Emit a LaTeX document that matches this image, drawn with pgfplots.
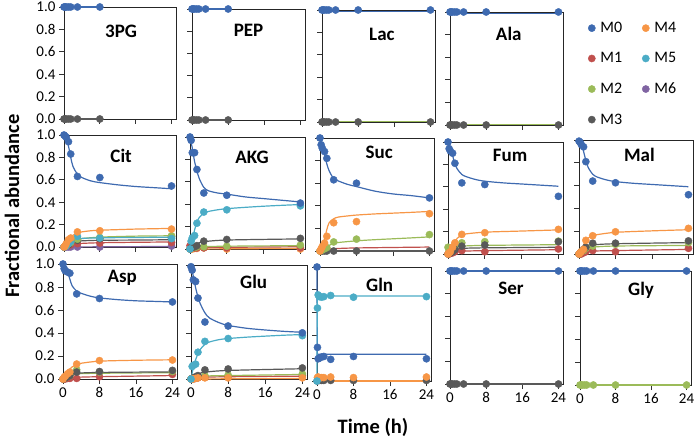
\documentclass[border=0pt]{standalone}
\usepackage{pgfplots}
\pgfplotsset{compat=1.18}
\usepackage{fontspec}
\setmainfont{Carlito}
\definecolor{c0}{HTML}{3E6AB0}
\definecolor{c1}{HTML}{C0504D}
\definecolor{c2}{HTML}{9BBB59}
\definecolor{c3}{HTML}{595959}
\definecolor{c4}{HTML}{F79646}
\definecolor{c5}{HTML}{4BACC6}
\definecolor{c6}{HTML}{8064A2}
\newcommand\tickfont{\fontsize{15}{18}\selectfont}
\newcommand\ttlfont{\fontsize{19}{22}\selectfont\bfseries}
\newcommand\legfont{\fontsize{16}{19}\selectfont}
\newcommand\labfont{\fontsize{20.5}{24}\selectfont\bfseries}
\pgfplotsset{
 panel/.style={scale only axis, anchor=south west, xmin=0, xmax=25, ymin=0, ymax=1,
   xtick={0,8,16,24}, ytick={0,0.2,0.4,0.6,0.8,1},
   xtick pos=bottom, ytick pos=left, tick align=outside, major tick length=5pt,
   tick style={black!80, line width=0.8pt},
   axis line style={black!85, line width=0.9pt},
   clip=false,
   ticklabel style={font=\tickfont},
   /pgf/number format/assume math mode=true,
   yticklabel style={/pgf/number format/.cd, fixed, fixed zerofill, precision=1}},
 noy/.style={yticklabels={}},
 nox/.style={xticklabels={}},
 pt/.style={only marks, mark=*, mark size=3.6pt, color=#1},
 ln/.style={no marks, color=#1, line width=1.2pt, smooth},
 sl/.style={no marks, color=#1, line width=1.2pt},
}
\newcommand\ttl[3]{\node[font=\ttlfont] at (rel axis cs:#1,#2) {#3};}
\begin{document}
\begin{tikzpicture}[x=1pt,y=1pt]
\useasboundingbox (0,0) rectangle (700,439);
% ---------- Row 1 ----------
\begin{axis}[panel, nox, at={(64pt,320pt)}, width=112pt, height=112pt]
\addplot[sl=c3] coordinates {(0,0) (8,0)};
\addplot[pt=c3] coordinates {(0,0) (0.25,0) (0.5,0) (1,0) (1.5,0) (3,0) (8,0)};
\addplot[sl=c0] coordinates {(0,1) (8,1)};
\addplot[pt=c0] coordinates {(0,1) (0.25,1) (0.5,1) (1,1) (1.5,1) (3,1) (8,1)};
\ttl{0.51}{0.78}{3PG}
\end{axis}
\begin{axis}[panel, nox, noy, at={(192pt,319pt)}, width=113pt, height=111pt]
\addplot[sl=c3] coordinates {(0,0) (8,0)};
\addplot[pt=c3] coordinates {(0,0) (0.25,0) (0.5,0) (1,0) (1.5,0) (3,0) (8,0)};
\addplot[sl=c0] coordinates {(0,1) (8,1)};
\addplot[pt=c0] coordinates {(0,1) (0.25,1) (0.5,1) (1,1) (1.5,1) (3,1) (8,1)};
\ttl{0.50}{0.81}{PEP}
\end{axis}
\begin{axis}[panel, nox, noy, at={(322pt,317pt)}, width=113pt, height=112pt]
\addplot[sl=c2] coordinates {(0,0.005) (24,0.005)};
\addplot[pt=c3] coordinates {(0,0) (0.25,0) (0.5,0) (1,0) (1.5,0) (3,0) (8,0) (24,0)};
\addplot[sl=c0] coordinates {(0,0.99) (24,0.99)};
\addplot[pt=c0] coordinates {(0,1) (0.25,1) (0.5,1) (1,1) (1.5,1) (3,1) (8,1) (24,1)};
\ttl{0.53}{0.78}{Lac}
\end{axis}
\begin{axis}[panel, nox, noy, at={(450pt,314pt)}, width=113pt, height=113pt]
\addplot[sl=c2] coordinates {(0,0.005) (24,0.005)};
\addplot[pt=c3] coordinates {(0,0) (0.25,0) (0.5,0) (1,0) (1.5,0) (3,0) (8,0) (24,0)};
\addplot[sl=c0] coordinates {(0,0.99) (24,0.99)};
\addplot[pt=c0] coordinates {(0,1) (0.25,1) (0.5,1) (1,1) (1.5,1) (3,1) (8,1) (24,1)};
\ttl{0.52}{0.81}{Ala}
\end{axis}
% ---------- legend ----------
\begin{axis}[hide axis, scale only axis, anchor=south west, at={(585pt,321pt)}, width=100pt, height=100pt,
  xmin=0, xmax=1, ymin=0, ymax=1,
  legend columns=2, legend cell align=left,
  legend style={at={(0,1)}, anchor=north west, draw=none, fill=none, font=\legfont,
    row sep=14.5pt, /tikz/every odd column/.append style={column sep=3pt},
    /tikz/every even column/.append style={column sep=18pt}},
  legend image code/.code={\draw[#1] plot coordinates {(0pt,0pt)};}]
\addlegendimage{pt=c0}\addlegendentry{M0}
\addlegendimage{pt=c4}\addlegendentry{M4}
\addlegendimage{pt=c1}\addlegendentry{M1}
\addlegendimage{pt=c5}\addlegendentry{M5}
\addlegendimage{pt=c2}\addlegendentry{M2}
\addlegendimage{pt=c6}\addlegendentry{M6}
\addlegendimage{pt=c3}\addlegendentry{M3}
\end{axis}
% ---------- Row 2 ----------
% Cit
\begin{axis}[panel, nox, at={(64pt,192pt)}, width=112pt, height=112pt]
\addplot[ln=c6] coordinates {(0,0) (24,0.005)};
\addplot[pt=c6] coordinates {(0,0) (0.25,0) (0.5,0) (1,0) (1.5,0) (3,0) (8,0) (24,0.008)};
\addplot[ln=c1] coordinates {(0,0) (1,0.01) (2,0.02) (3,0.03) (8,0.038) (16,0.042) (24,0.045)};
\addplot[pt=c1] coordinates {(0,0) (0.25,0.005) (0.5,0.01) (1,0.02) (1.5,0.02) (3,0.03) (8,0.035) (24,0.04)};
\addplot[ln=c3] coordinates {(0,0) (1,0.02) (2,0.04) (3,0.05) (4,0.055) (8,0.06) (16,0.062) (24,0.065)};
\addplot[pt=c3] coordinates {(0,0) (0.25,0.005) (0.5,0.01) (1,0.02) (1.5,0.04) (3,0.06) (8,0.075) (24,0.09)};
\addplot[ln=c2] coordinates {(0,0) (1,0.025) (2,0.05) (3,0.065) (4,0.075) (8,0.088) (16,0.097) (24,0.1)};
\addplot[pt=c2] coordinates {(0,0) (0.25,0.005) (0.5,0.01) (1,0.03) (1.5,0.04) (3,0.07) (8,0.085) (24,0.1)};
\addplot[ln=c5] coordinates {(0,0) (1,0.03) (2,0.06) (3,0.072) (4,0.077) (8,0.082) (16,0.085) (24,0.088)};
\addplot[pt=c5] coordinates {(0,0) (0.25,0.005) (0.5,0.01) (1,0.03) (1.5,0.05) (3,0.095) (8,0.08) (24,0.075)};
\addplot[ln=c4] coordinates {(0,0) (0.5,0.03) (1,0.06) (1.5,0.085) (2,0.105) (3,0.125) (4,0.135) (6,0.145) (8,0.15) (12,0.155) (16,0.16) (20,0.163) (24,0.166)};
\addplot[pt=c4] coordinates {(0,0) (0.25,0.01) (0.5,0.03) (1,0.065) (1.5,0.08) (3,0.135) (8,0.145) (24,0.16)};
\addplot[ln=c0] coordinates {(0,1) (0.5,0.97) (1,0.9) (1.5,0.8) (2,0.72) (3,0.65) (4,0.62) (6,0.59) (8,0.575) (12,0.555) (16,0.54) (20,0.53) (24,0.52)};
\addplot[pt=c0] coordinates {(0,1) (0.25,0.99) (0.5,0.98) (1,0.94) (1.5,0.83) (3,0.63) (8,0.62) (24,0.545)};
\ttl{0.51}{0.81}{Cit}
\end{axis}
% AKG
\begin{axis}[panel, nox, noy, at={(190pt,190pt)}, width=115pt, height=112pt]
\addplot[ln=c4] coordinates {(0,0) (24,0.005)};
\addplot[pt=c4] coordinates {(0,0) (0.25,0) (0.5,0) (1,0.005) (1.5,0.005) (3,0.01) (8,0) (24,0)};
\addplot[ln=c1] coordinates {(0,0.01) (3,0.012) (8,0.015) (24,0.02)};
\addplot[pt=c1] coordinates {(0,0.03) (0.25,0.02) (0.5,0.02) (1,0.01) (1.5,0.01) (3,0.01) (8,0.01) (24,0.01)};
\addplot[ln=c2] coordinates {(0,0) (1,0.01) (3,0.02) (8,0.025) (24,0.03)};
\addplot[pt=c2] coordinates {(0,0) (0.25,0.01) (0.5,0.01) (1,0.015) (1.5,0.02) (3,0.02) (8,0.025) (24,0.035)};
\addplot[ln=c3] coordinates {(0,0) (1,0.03) (2,0.055) (3,0.065) (8,0.08) (24,0.09)};
\addplot[pt=c3] coordinates {(0,0) (0.25,0.01) (0.5,0.02) (1,0.02) (1.5,0.03) (3,0.07) (8,0.085) (24,0.095)};
\addplot[ln=c5] coordinates {(0,0) (0.5,0.08) (1,0.17) (1.5,0.24) (2,0.28) (3,0.32) (4,0.335) (6,0.35) (8,0.36) (12,0.372) (16,0.382) (20,0.39) (24,0.397)};
\addplot[pt=c5] coordinates {(0,0) (0.25,0.07) (0.5,0.1) (1,0.12) (1.5,0.23) (3,0.33) (8,0.35) (24,0.385)};
\addplot[ln=c0] coordinates {(0,1) (0.5,0.9) (1,0.78) (1.5,0.7) (2,0.63) (3,0.55) (4,0.52) (6,0.5) (8,0.49) (12,0.465) (16,0.45) (20,0.435) (24,0.42)};
\addplot[pt=c0] coordinates {(0,1) (0.25,0.97) (0.5,0.86) (1,0.86) (1.5,0.71) (3,0.5) (8,0.48) (24,0.41)};
\ttl{0.54}{0.82}{AKG}
\end{axis}
% Suc
\begin{axis}[panel, nox, noy, at={(320pt,188pt)}, width=114pt, height=113pt]
\addplot[ln=c1] coordinates {(0,0) (1,0.01) (3,0.02) (8,0.027) (24,0.035)};
\addplot[sl=c3] coordinates {(0,0) (24,0)};
\addplot[pt=c3] coordinates {(0,0) (0.25,0) (0.5,0) (1,0) (1.5,0) (3,0) (8,0) (24,0)};
\addplot[ln=c2] coordinates {(0,0) (1,0.02) (2,0.05) (3,0.065) (4,0.075) (8,0.09) (12,0.1) (16,0.108) (20,0.116) (24,0.125)};
\addplot[pt=c2] coordinates {(0,0) (0.25,0.005) (0.5,0.01) (1,0.02) (1.5,0.03) (3,0.08) (8,0.105) (24,0.145)};
\addplot[ln=c4] coordinates {(0,0) (0.5,0.04) (1,0.11) (1.5,0.19) (2,0.25) (3,0.285) (4,0.3) (6,0.31) (8,0.318) (12,0.328) (16,0.335) (20,0.342) (24,0.35)};
\addplot[pt=c4] coordinates {(0,0) (0.25,0.02) (0.5,0.04) (1,0.07) (1.5,0.13) (3,0.25) (8,0.26) (24,0.33)};
\addplot[ln=c0] coordinates {(0,1) (0.5,0.93) (1,0.85) (1.5,0.77) (2,0.71) (3,0.64) (4,0.62) (6,0.59) (8,0.57) (12,0.53) (16,0.505) (20,0.49) (24,0.47)};
\addplot[pt=c0] coordinates {(0,1) (0.25,0.94) (0.5,0.91) (1,0.88) (1.5,0.82) (3,0.63) (8,0.6) (24,0.47)};
\ttl{0.52}{0.87}{Suc}
\end{axis}
% Fum
\begin{axis}[panel, nox, noy, at={(448pt,185pt)}, width=115pt, height=112pt]
\addplot[ln=c1] coordinates {(0,0) (1,0.01) (2,0.02) (3,0.025) (8,0.03) (24,0.038)};
\addplot[pt=c1] coordinates {(0,0) (0.25,0) (0.5,0.005) (1,0.01) (1.5,0.02) (3,0.03) (8,0.02) (24,0.045)};
\addplot[ln=c2] coordinates {(0,0) (1,0.04) (2,0.06) (3,0.07) (8,0.077) (24,0.083)};
\addplot[pt=c2] coordinates {(0,0.06) (0.25,0.03) (0.5,0.04) (1,0.06) (1.5,0.08) (3,0.1) (8,0.11) (24,0.115)};
\addplot[ln=c3] coordinates {(0,0) (1,0.02) (2,0.04) (3,0.05) (8,0.055) (24,0.06)};
\addplot[pt=c3] coordinates {(0,0) (0.25,0.005) (0.5,0.01) (1,0.02) (1.5,0.04) (3,0.07) (8,0.08) (24,0.11)};
\addplot[ln=c4] coordinates {(0,0) (0.5,0.03) (1,0.07) (1.5,0.11) (2,0.14) (3,0.17) (4,0.18) (8,0.195) (16,0.205) (24,0.215)};
\addplot[pt=c4] coordinates {(0,0) (0.25,0.01) (0.5,0.02) (1,0.06) (1.5,0.1) (3,0.175) (8,0.19) (24,0.22)};
\addplot[ln=c0] coordinates {(0,1) (0.5,0.95) (1,0.88) (1.5,0.8) (2,0.76) (3,0.71) (4,0.69) (6,0.665) (8,0.65) (12,0.635) (16,0.625) (20,0.615) (24,0.605)};
\addplot[pt=c0] coordinates {(0,1) (0.25,0.94) (0.5,0.92) (1,0.9) (1.5,0.81) (3,0.635) (8,0.62) (24,0.515)};
\ttl{0.54}{0.88}{Fum}
\end{axis}
% Mal
\begin{axis}[panel, nox, noy, at={(579pt,185pt)}, width=114pt, height=114pt]
\addplot[ln=c1] coordinates {(0,0) (1,0.01) (3,0.025) (8,0.03) (24,0.04)};
\addplot[pt=c1] coordinates {(0,0) (0.25,0) (0.5,0) (1,0.01) (1.5,0.02) (3,0.03) (8,0.02) (24,0.05)};
\addplot[ln=c2] coordinates {(0,0) (1,0.03) (2,0.05) (3,0.06) (8,0.07) (24,0.075)};
\addplot[pt=c2] coordinates {(0,0) (0.25,0.01) (0.5,0.02) (1,0.03) (1.5,0.05) (3,0.07) (8,0.085) (24,0.1)};
\addplot[ln=c3] coordinates {(0,0) (1,0.05) (2,0.07) (3,0.08) (8,0.09) (24,0.1)};
\addplot[pt=c3] coordinates {(0,0) (0.25,0.01) (0.5,0.02) (1,0.04) (1.5,0.06) (3,0.095) (8,0.095) (24,0.115)};
\addplot[ln=c4] coordinates {(0,0) (0.5,0.03) (1,0.08) (1.5,0.12) (2,0.14) (3,0.16) (4,0.17) (8,0.19) (16,0.203) (24,0.213)};
\addplot[pt=c4] coordinates {(0,0) (0.25,0.01) (0.5,0.02) (1,0.04) (1.5,0.12) (3,0.16) (8,0.195) (24,0.225)};
\addplot[ln=c0] coordinates {(0,1) (0.5,0.97) (1,0.9) (1.5,0.82) (2,0.76) (3,0.7) (4,0.675) (6,0.65) (8,0.635) (12,0.62) (16,0.61) (20,0.6) (24,0.59)};
\addplot[pt=c0] coordinates {(0,0.99) (0.25,0.98) (0.5,0.96) (1,0.94) (1.5,0.81) (3,0.64) (8,0.625) (24,0.52)};
\ttl{0.53}{0.87}{Mal}
\end{axis}
% ---------- Row 3 ----------
% Asp
\begin{axis}[panel, at={(63pt,60pt)}, width=114pt, height=115pt]
\addplot[ln=c1] coordinates {(0,0) (2,0.01) (3,0.015) (8,0.02) (24,0.03)};
\addplot[pt=c1] coordinates {(0,0) (0.25,0) (0.5,0) (1,0.005) (1.5,0.005) (3,0.005) (8,0.02) (24,0.04)};
\addplot[ln=c2] coordinates {(0,0) (1,0.02) (2,0.035) (3,0.045) (8,0.05) (24,0.055)};
\addplot[pt=c2] coordinates {(0,0) (0.25,0.005) (0.5,0.01) (1,0.02) (1.5,0.03) (3,0.08) (8,0.06) (24,0.065)};
\addplot[ln=c3] coordinates {(0,0) (1,0.02) (2,0.04) (3,0.05) (8,0.057) (24,0.062)};
\addplot[pt=c3] coordinates {(0,0) (0.25,0.005) (0.5,0.01) (1,0.02) (1.5,0.03) (3,0.06) (8,0.065) (24,0.075)};
\addplot[ln=c4] coordinates {(0,0) (0.5,0.03) (1,0.06) (1.5,0.085) (2,0.105) (3,0.125) (4,0.137) (8,0.155) (16,0.163) (24,0.167)};
\addplot[pt=c4] coordinates {(0,0) (0.25,0.015) (0.5,0.025) (1,0.045) (1.5,0.06) (3,0.13) (8,0.16) (24,0.165)};
\addplot[ln=c0] coordinates {(0,1) (0.5,0.97) (1,0.93) (1.5,0.87) (2,0.81) (3,0.765) (4,0.745) (6,0.72) (8,0.705) (12,0.69) (16,0.68) (20,0.675) (24,0.67)};
\addplot[pt=c0] coordinates {(0,1) (0.25,0.96) (0.5,0.94) (1,0.93) (1.5,0.92) (3,0.74) (8,0.7) (24,0.67)};
\ttl{0.52}{0.88}{Asp}
\end{axis}
% Glu
\begin{axis}[panel, noy, at={(191pt,60pt)}, width=116pt, height=114pt]
\addplot[ln=c1] coordinates {(0,0) (3,0.015) (8,0.02) (24,0.025)};
\addplot[pt=c1] coordinates {(0,0) (0.25,0) (0.5,0) (1,0.005) (1.5,0.01) (3,0.015) (8,0.02) (24,0.03)};
\addplot[ln=c2] coordinates {(0,0) (3,0.025) (8,0.03) (24,0.04)};
\addplot[pt=c2] coordinates {(0,0) (0.25,0.005) (0.5,0.005) (1,0.01) (1.5,0.02) (3,0.03) (8,0.035) (24,0.045)};
\addplot[ln=c3] coordinates {(0,0) (1,0.03) (2,0.05) (3,0.06) (8,0.075) (24,0.09)};
\addplot[pt=c3] coordinates {(0,0) (0.25,0.005) (0.5,0.01) (1,0.02) (1.5,0.03) (3,0.08) (8,0.088) (24,0.097)};
\addplot[ln=c4] coordinates {(0,0) (24,0.005)};
\addplot[pt=c4] coordinates {(0,0) (0.25,0) (0.5,0) (1,0.005) (1.5,0.01) (3,0.01) (8,0.01) (24,0.01)};
\addplot[ln=c5] coordinates {(0,0) (0.5,0.1) (1,0.17) (1.5,0.22) (2,0.26) (3,0.305) (4,0.325) (6,0.345) (8,0.355) (12,0.367) (16,0.376) (20,0.384) (24,0.39)};
\addplot[pt=c5] coordinates {(0,0) (0.25,0.11) (0.5,0.12) (1,0.13) (1.5,0.235) (3,0.33) (8,0.355) (24,0.38)};
\addplot[ln=c0] coordinates {(0,1) (0.5,0.9) (1,0.8) (1.5,0.72) (2,0.66) (3,0.58) (4,0.535) (6,0.495) (8,0.47) (12,0.445) (16,0.43) (20,0.418) (24,0.41)};
\addplot[pt=c0] coordinates {(0,0.985) (0.25,0.955) (0.5,0.87) (1,0.855) (1.5,0.71) (3,0.5) (8,0.465) (24,0.405)};
\ttl{0.54}{0.85}{Glu}
\end{axis}
% Gln
\begin{axis}[panel, noy, at={(317pt,58pt)}, width=114pt, height=114pt]
\addplot[pt=c3] coordinates {(0,0) (0.25,0.005) (0.5,0.005) (1,0.005) (1.5,0.005) (3,0.005) (8,0.005) (24,0.005)};
\addplot[sl=c4] coordinates {(0,0) (24,0)};
\addplot[pt=c4] coordinates {(0.1,0.03) (0.25,0.035) (0.5,0.03) (1,0.03) (1.5,0.03) (3,0.035) (8,0.03) (24,0.035)};
\addplot[sl=c0] coordinates {(0,1) (0.05,0.235) (24,0.235)};
\addplot[pt=c0] coordinates {(0,1) (0.1,0.295) (0.25,0.195) (0.5,0.2) (1,0.21) (1.5,0.215) (3,0.19) (8,0.215) (24,0.195)};
\addplot[sl=c5] coordinates {(0,0) (0.05,0.745) (24,0.745)};
\addplot[pt=c5] coordinates {(0,0) (0.1,0.64) (0.25,0.755) (0.5,0.74) (1,0.735) (1.5,0.74) (3,0.75) (8,0.735) (24,0.74)};
\ttl{0.55}{0.84}{Gln}
\end{axis}
% Ser
\begin{axis}[panel, noy, at={(450pt,55pt)}, width=113pt, height=113pt]
\addplot[sl=c3] coordinates {(0,0) (24,0)};
\addplot[pt=c3] coordinates {(0,0) (0.25,0) (0.5,0) (1,0) (1.5,0) (3,0) (8,0) (24,0)};
\addplot[sl=c0] coordinates {(0,1) (24,1)};
\addplot[pt=c0] coordinates {(0,1) (0.25,1) (0.5,1) (1,1) (1.5,1) (3,1) (8,1) (24,1)};
\ttl{0.54}{0.85}{Ser}
\end{axis}
% Gly
\begin{axis}[panel, noy, at={(580pt,54pt)}, width=111pt, height=114pt]
\addplot[sl=c2] coordinates {(0,0) (24,0)};
\addplot[pt=c2] coordinates {(0,0) (0.25,0) (0.5,0) (1,0) (1.5,0) (3,0) (8,0) (24,0)};
\addplot[sl=c0] coordinates {(0,1) (24,1)};
\addplot[pt=c0] coordinates {(0,1) (0.25,1) (0.5,1) (1,1) (1.5,1) (3,1) (8,1) (24,1)};
\ttl{0.55}{0.83}{Gly}
\end{axis}
% ---------- axis titles ----------
\node[font=\labfont, rotate=90] at (12,233) {Fractional abundance};
\node[font=\labfont] at (373,12) {Time (h)};
\end{tikzpicture}
\end{document}
